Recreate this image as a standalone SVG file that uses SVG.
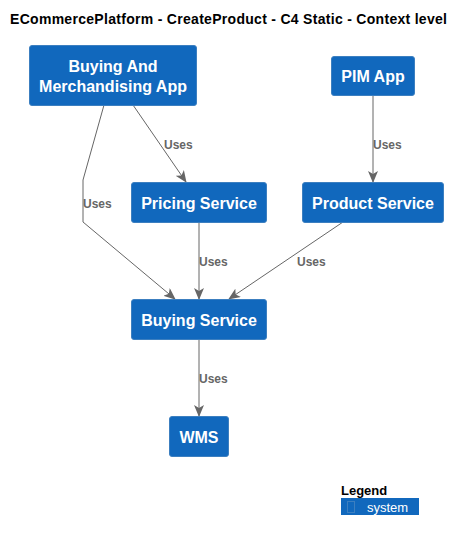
<svg xmlns="http://www.w3.org/2000/svg" width="465" height="541" viewBox="0 0 465 541">
<style>
.box{fill:#1168BD;stroke:#3C7FC0;stroke-width:1}
.t{font-family:"Liberation Sans",Arial,sans-serif;font-weight:bold;fill:#FFFFFF;font-size:16px;text-anchor:middle}
.e{fill:none;stroke:#666666;stroke-width:1}
.l{font-family:"Liberation Sans",Arial,sans-serif;font-weight:bold;fill:#666666;font-size:12px}
</style>
<defs>
<marker id="arr" viewBox="0 0 12 10" refX="11" refY="5" markerWidth="12" markerHeight="10" markerUnits="userSpaceOnUse" orient="auto">
<path d="M0,0 L12,5 L0,10 L3,5 Z" fill="#666666"/>
</marker>
</defs>
<rect width="465" height="541" fill="#FFFFFF"/>
<text x="10" y="24" font-family="'Liberation Sans',Arial,sans-serif" font-weight="bold" font-size="14" fill="#000000" textLength="437" lengthAdjust="spacing">ECommercePlatform - CreateProduct - C4 Static - Context level</text>
<g id="connectors">
<path class="e" d="M104,105 L83,180 L83,222 L175,299" marker-end="url(#arr)"/>
<text class="l" x="83" y="208">Uses</text>
<path class="e" d="M133,105 L186,182" marker-end="url(#arr)"/>
<text class="l" x="164" y="149">Uses</text>
<path class="e" d="M373,95 L373,182" marker-end="url(#arr)"/>
<text class="l" x="373" y="149">Uses</text>
<path class="e" d="M199,222 L199,299" marker-end="url(#arr)"/>
<text class="l" x="199" y="266">Uses</text>
<path class="e" d="M343,222 L229,299" marker-end="url(#arr)"/>
<text class="l" x="297" y="266">Uses</text>
<path class="e" d="M199,339 L199,416" marker-end="url(#arr)"/>
<text class="l" x="199" y="383">Uses</text>
</g>
<g id="bam">
<rect class="box" x="29.5" y="45.5" width="167" height="60" rx="2.5"/>
<text class="t" x="113" y="72">Buying And</text>
<text class="t" x="113" y="92">Merchandising App</text>
</g>
<g id="pim">
<rect class="box" x="331.5" y="56.5" width="83" height="39" rx="2.5"/>
<text class="t" x="373" y="82">PIM App</text>
</g>
<g id="pricing">
<rect class="box" x="131.5" y="182.5" width="135" height="40" rx="2.5"/>
<text class="t" x="199" y="209">Pricing Service</text>
</g>
<g id="product">
<rect class="box" x="302.5" y="182.5" width="141" height="40" rx="2.5"/>
<text class="t" x="373" y="209">Product Service</text>
</g>
<g id="buying">
<rect class="box" x="131.5" y="299.5" width="135" height="40" rx="2.5"/>
<text class="t" x="199" y="326">Buying Service</text>
</g>
<g id="wms">
<rect class="box" x="169.5" y="416.5" width="59" height="40" rx="2.5"/>
<text class="t" x="199" y="443">WMS</text>
</g>
<g id="legend">
<text x="341" y="495" font-family="'Liberation Sans',Arial,sans-serif" font-weight="bold" font-size="13" fill="#000000">Legend</text>
<rect x="341" y="498" width="78" height="17" fill="#1168BD"/>
<rect x="347.5" y="501.5" width="7" height="11" fill="none" stroke="#3C7FC0" stroke-width="1"/>
<text x="367" y="512" font-family="'Liberation Sans',Arial,sans-serif" font-size="13" fill="#FFFFFF">system</text>
</g>
</svg>
